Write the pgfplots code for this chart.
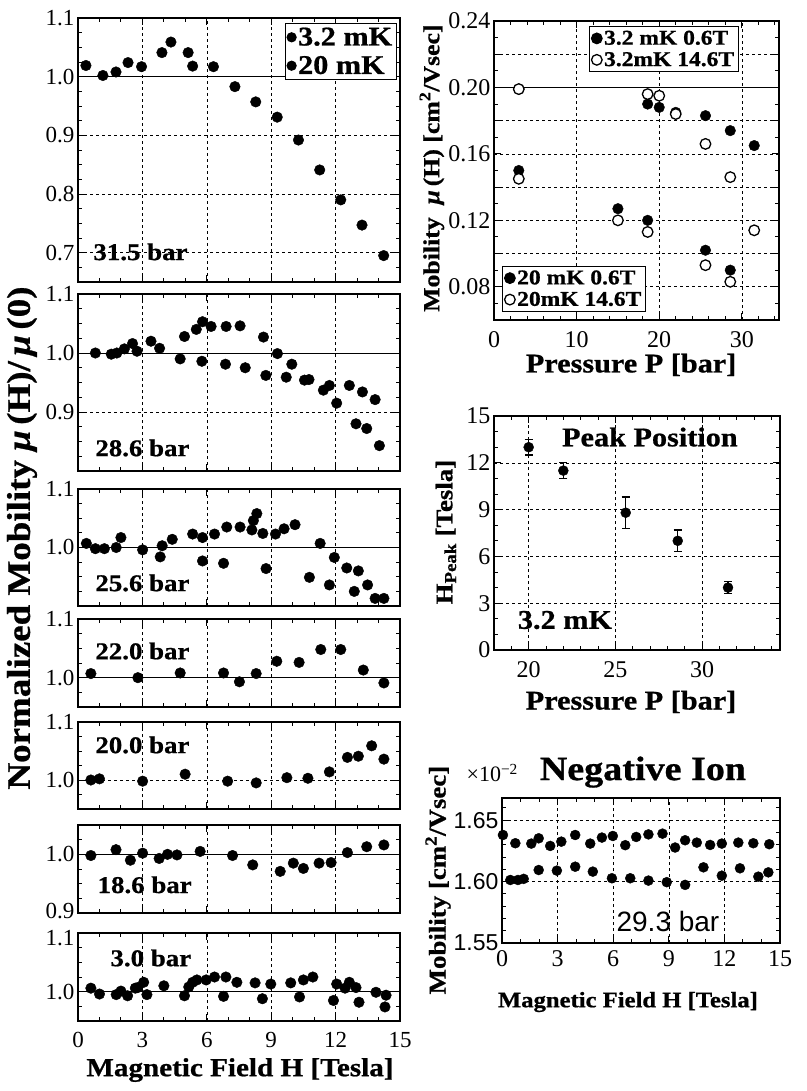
\documentclass[border=0pt]{standalone}
\usepackage{fontspec}
\setmainfont{Liberation Serif}
\setsansfont{Liberation Sans}
\newfontfamily\wb{Liberation Serif}[FakeStretch=1.12, FakeBold=0.8]
\usepackage{pgfplots}
\pgfplotsset{compat=1.18}
\newcommand\fs[1]{\fontsize{#1}{#1}\selectfont}
\tikzset{plab/.style={anchor=west, font=\wb\bfseries\fs{24}}}
\pgfplotsset{
  base/.style={scale only axis, tick pos=both, tick align=inside,
    major tick length=7pt, minor tick length=4pt,
    axis line style={line width=1.3pt},
    every tick/.style={black, line width=0.9pt},
    grid=major,
    major grid style={black, line width=0.6pt, dash pattern=on 3pt off 3pt},
    /pgf/number format/assume math mode=true,
    tick label style={font=\fs{23}},
    xticklabel style={yshift=-8pt},
    clip=false},
  lp/.style={base, width=322pt, xmin=0, xmax=15, xtick={0,3,...,15},
    minor xtick={1,2,4,5,7,8,10,11,13,14},
    xticklabels={},
    yticklabel style={/pgf/number format/fixed, /pgf/number format/fixed zerofill, /pgf/number format/precision=1}},
  pts/.style={only marks, mark=*, mark size=5.3pt, black},
  one/.style={black, line width=1pt, forget plot},
}
\begin{document}
\begin{tikzpicture}
\path[use as bounding box] (0,0) rectangle (806pt,-1091pt);

% ---------- Panel 1: 31.5 bar
\begin{axis}[lp, at={(78pt,-18pt)}, anchor=north west, height=264pt,
  ymin=0.65, ymax=1.1, ytick={0.7,0.8,0.9,1.0,1.1},
  minor ytick={0.675,0.725,0.75,0.775,0.825,0.85,0.875,0.925,0.95,0.975,1.025,1.05,1.075},
  legend style={at={(rel axis cs:0.99,0.981)}, anchor=north east, draw=black,
    line width=1.2pt, font=\wb\bfseries\fs{27}, inner sep=2pt, row sep=5pt},
  legend cell align=left]
\addplot[one] coordinates {(0,1) (15,1)};
\addplot[pts, forget plot] coordinates {(0.37,1.019)(1.16,1.002)(1.77,1.008)(2.33,1.024)(2.96,1.017)(3.91,1.041)(4.33,1.059)(5.13,1.041)(5.34,1.018)(6.31,1.017)(7.31,0.983)(8.28,0.957)(9.28,0.931)(10.27,0.892)(11.26,0.841)(12.24,0.790)(13.23,0.747)(14.24,0.695)};
\addlegendimage{only marks, mark=*, mark size=4.5pt, black}
\addlegendentry{3.2 mK}
\addlegendimage{only marks, mark=*, mark size=4.5pt, black}
\addlegendentry{20 mK}
\node[plab] at (rel axis cs:0.037,0.114) {31.5 bar};
\end{axis}

% ---------- Panel 2: 28.6 bar
\begin{axis}[lp, at={(78pt,-294pt)}, anchor=north west, height=177pt,
  ymin=0.8, ymax=1.1, ytick={0.8,0.9,1.0,1.1}, yticklabels={,0.9,1.0,1.1},
  minor ytick={0.825,0.85,0.875,0.925,0.95,0.975,1.025,1.05,1.075}]
\addplot[one] coordinates {(0,1) (15,1)};
\addplot[pts] coordinates {(0.81,1.000)(1.55,0.998)(1.81,1.000)(2.16,1.007)(2.54,1.016)(2.75,1.003)(3.40,1.020)(3.80,1.008)(4.76,0.990)(4.96,1.028)(5.51,1.040)(5.80,1.053)(5.77,0.986)(6.20,1.045)(6.90,1.045)(6.87,0.981)(7.55,1.046)(7.79,0.975)(8.64,1.027)(8.75,0.962)(9.29,0.999)(9.70,0.959)(9.96,0.981)(10.55,0.954)(10.76,0.955)(11.43,0.937)(11.71,0.945)(12.05,0.915)(12.64,0.945)(12.95,0.880)(13.25,0.934)(13.45,0.872)(13.84,0.921)(14.04,0.843)};
\node[plab] at (rel axis cs:0.043,0.13) {28.6 bar};
\end{axis}

% ---------- Panel 3: 25.6 bar
\begin{axis}[lp, at={(78pt,-489pt)}, anchor=north west, height=117pt,
  ymin=0.9, ymax=1.1, ytick={0.9,1.0,1.1}, yticklabels={,1.0,1.1},
  minor ytick={0.925,0.95,0.975,1.025,1.05,1.075},
  ylabel={Normalized Mobility \textit{μ}\,(H)/\,\textit{μ}\,(0)},
  ylabel style={at={(axis description cs:-0.174,0.581)}, anchor=center, font=\wb\bfseries\fs{33}}]
\addplot[one] coordinates {(0,1) (15,1)};
\addplot[pts] coordinates {(0.39,1.007)(0.81,0.998)(1.23,0.998)(1.78,1.000)(2.00,1.017)(3.01,0.996)(3.92,1.003)(3.83,0.984)(4.39,1.014)(5.34,1.023)(5.80,1.017)(5.80,0.977)(6.36,1.023)(6.78,0.973)(6.93,1.035)(7.55,1.035)(8.10,1.030)(8.17,1.046)(8.33,1.058)(8.61,1.024)(8.76,0.964)(9.20,1.023)(9.60,1.032)(10.11,1.039)(10.78,0.949)(11.28,1.007)(11.71,0.936)(11.94,0.983)(12.52,0.965)(12.87,0.925)(13.06,0.960)(13.49,0.936)(13.84,0.913)(14.25,0.913)};
\node[plab] at (rel axis cs:0.043,0.197) {25.6 bar};
\end{axis}

% ---------- Panel 4: 22.0 bar
\begin{axis}[lp, at={(78pt,-619pt)}, anchor=north west, height=88pt,
  ymin=0.95, ymax=1.1, ytick={1.0,1.1},
  minor ytick={0.975,1.025,1.05,1.075}]
\addplot[one] coordinates {(0,1) (15,1)};
\addplot[pts] coordinates {(0.60,1.007)(2.79,1.000)(4.76,1.008)(6.78,1.008)(7.52,0.993)(8.30,1.007)(9.26,1.028)(10.30,1.026)(11.31,1.048)(12.24,1.048)(13.29,1.013)(14.25,0.991)};
\node[plab] at (rel axis cs:0.043,0.636) {22.0 bar};
\end{axis}

% ---------- Panel 5: 20.0 bar
\begin{axis}[lp, at={(78pt,-722pt)}, anchor=north west, height=87pt,
  ymin=0.95, ymax=1.1, ytick={1.0,1.1},
  minor ytick={0.975,1.025,1.05,1.075}]
\addplot[pts] coordinates {(0.60,1.000)(1.00,1.002)(3.01,0.998)(4.99,1.010)(6.97,0.998)(8.30,0.995)(9.73,1.004)(10.71,1.003)(11.71,1.014)(12.55,1.039)(13.06,1.041)(13.68,1.059)(14.25,1.036)};
\node[plab] at (rel axis cs:0.043,0.736) {20.0 bar};
\end{axis}

% ---------- Panel 6: 18.6 bar
\begin{axis}[lp, at={(78pt,-825pt)}, anchor=north west, height=88pt,
  ymin=0.9, ymax=1.05, ytick={1.0},
  extra y ticks={0.9}, extra y tick labels={0.9},
  extra y tick style={yticklabel style={yshift=2pt}},
  minor ytick={0.925,0.95,0.975,1.025}]
\addplot[one] coordinates {(0,1) (15,1)};
\addplot[pts] coordinates {(0.60,0.998)(1.77,1.008)(2.44,0.990)(3.01,1.002)(3.78,0.993)(4.17,1.000)(4.61,0.999)(5.69,1.005)(7.20,0.998)(8.14,0.982)(9.42,0.971)(10.03,0.985)(10.50,0.976)(11.23,0.985)(11.79,0.986)(12.55,1.003)(13.45,1.013)(14.25,1.016)};
\node[plab] at (rel axis cs:0.05,0.32) {18.6 bar};
\end{axis}

% ---------- Panel 7: 3.0 bar
\begin{axis}[lp, at={(78pt,-933pt)}, anchor=north west, height=88pt,
  ymin=0.95, ymax=1.1, ytick={1.0},
  extra y ticks={1.1}, extra y tick labels={1.1},
  extra y tick style={yticklabel style={yshift=-5pt}},
  minor ytick={0.975,1.025,1.05,1.075},
  xticklabels={0,3,6,9,12,15},
  xticklabel style={font=\fs{23}},
  xlabel={Magnetic Field H [Tesla]},
  xlabel style={at={(axis description cs:0.503,-0.557)}, anchor=center, font=\wb\bfseries\fs{26}}]
\addplot[one] coordinates {(0,1) (15,1)};
\addplot[pts] coordinates {(0.60,1.006)(1.00,0.996)(1.78,0.995)(2.00,1.001)(2.31,0.993)(2.67,1.006)(2.78,1.007)(3.06,1.016)(3.21,0.995)(4.00,1.010)(4.96,0.993)(5.16,1.008)(5.34,1.016)(5.54,1.020)(5.97,1.020)(6.36,1.025)(6.78,0.992)(6.89,1.025)(7.40,1.016)(8.25,1.015)(8.59,0.988)(8.98,1.013)(9.91,1.015)(10.32,0.991)(10.50,1.020)(10.94,1.025)(11.90,0.985)(12.05,1.013)(12.44,1.006)(12.64,1.016)(12.95,1.007)(13.09,0.982)(13.88,0.999)(14.35,0.994)(14.30,0.974)};
\node[plab] at (rel axis cs:0.09,0.716) {3.0 bar};
\end{axis}

% ---------- Panel A: mobility vs pressure
\begin{axis}[base, at={(494pt,-21pt)}, anchor=north west, width=285pt, height=299pt,
  xmin=0, xmax=34.5, ymin=0.06, ymax=0.24,
  xtick={0,10,20,30}, minor xtick={2,4,6,8,12,14,16,18,22,24,26,28,32,34},
  ytick={0.08,0.12,0.16,0.20,0.24},
  extra y ticks={0.10,0.14,0.18,0.22}, extra y tick labels={},
  extra y tick style={grid=major},
  minor ytick={0.07,0.09,0.11,0.13,0.15,0.17,0.19,0.21,0.23},
  tick label style={font=\fs{24}},
  yticklabel style={/pgf/number format/fixed, /pgf/number format/fixed zerofill, /pgf/number format/precision=2},
  ylabel={Mobility \ \textit{μ}\,(H) [cm\textsuperscript{2}/Vsec]},
  ylabel style={at={(axis description cs:-0.218,0.508)}, anchor=center, font=\wb\bfseries\fs{23}},
  xlabel={Pressure P [bar]},
  xlabel style={at={(axis description cs:0.481,-0.15)}, anchor=center, font=\wb\bfseries\fs{27}},
  legend style={at={(rel axis cs:0.333,0.983)}, anchor=north west, draw=black,
    line width=1.2pt, font=\wb\bfseries\fs{21}, inner sep=2pt, row sep=2pt},
  legend cell align=left]
\addplot[one] coordinates {(0,0.2) (34.5,0.2)};
\addplot[only marks, mark=*, mark size=5.3pt, black] coordinates {(3.0,0.199)(18.6,0.190)(20.0,0.188)(22.0,0.185)(25.6,0.183)(28.6,0.174)(31.5,0.165)};
\addlegendentry{3.2 mK 0.6T}
\addplot[only marks, mark=*, mark size=5.3pt, black, mark options={fill=white, line width=1.3pt}] coordinates {(3.0,0.199)(18.6,0.196)(20.0,0.195)(22.0,0.184)(25.6,0.166)(28.6,0.146)(31.5,0.114)};
\addlegendentry{3.2mK 14.6T}
\end{axis}
\begin{axis}[scale only axis, at={(494pt,-21pt)}, anchor=north west, width=285pt, height=299pt,
  xmin=0, xmax=34.5, ymin=0.06, ymax=0.24, hide axis,
  legend style={at={(rel axis cs:0.028,0.027)}, anchor=south west, draw=black,
    line width=1.2pt, font=\wb\bfseries\fs{21}, inner sep=2pt, row sep=2pt},
  legend cell align=left]
\addplot[only marks, mark=*, mark size=5.3pt, black] coordinates {(3.0,0.150)(15.0,0.127)(18.6,0.120)(25.6,0.102)(28.6,0.090)};
\addlegendentry{20 mK 0.6T}
\addplot[only marks, mark=*, mark size=5.3pt, black, mark options={fill=white, line width=1.3pt}] coordinates {(3.0,0.145)(15.0,0.120)(18.6,0.113)(25.6,0.093)(28.6,0.083)};
\addlegendentry{20mK 14.6T}
\end{axis}

% ---------- Panel B: peak position
\begin{axis}[base, at={(494pt,-416pt)}, anchor=north west, width=286pt, height=234pt,
  xmin=18, xmax=34.5, ymin=0, ymax=15,
  xtick={20,25,30}, minor xtick={18,19,21,22,23,24,26,27,28,29,31,32,33,34},
  ytick={0,3,...,15}, minor ytick={1,2,4,5,7,8,10,11,13,14},
  tick label style={font=\fs{24}},
  ylabel={H\textsubscript{Peak} [Tesla]},
  ylabel style={at={(axis description cs:-0.168,0.504)}, anchor=center, font=\wb\bfseries\fs{24}},
  xlabel={Pressure P [bar]},
  xlabel style={at={(axis description cs:0.479,-0.222)}, anchor=center, font=\wb\bfseries\fs{27}}]
\addplot[only marks, mark=*, mark size=5pt, black,
  error bars/.cd, y dir=both, y explicit,
  error bar style={line width=1.3pt}, error mark options={line width=1.3pt, mark size=4pt, rotate=90}]
  coordinates {(20.0,13.0) +- (0,0.5) (22.0,11.5) +- (0,0.5) (25.6,8.8) +- (0,1.0) (28.6,7.0) +- (0,0.7) (31.5,4.0) +- (0,0.4)};
\node[font=\wb\bfseries\fs{27}] at (rel axis cs:0.545,0.91) {Peak Position};
\node[font=\wb\bfseries\fs{27}] at (rel axis cs:0.248,0.128) {3.2 mK};
\end{axis}

% ---------- Panel C: negative ion
\begin{axis}[base, at={(502pt,-798pt)}, anchor=north west, width=278pt, height=145pt,
  xmin=0, xmax=15, ymin=1.55, ymax=1.668,
  xtick={0,3,...,15}, minor xtick={1,2,4,5,7,8,10,11,13,14},
  ytick={1.55,1.60,1.65}, minor ytick={1.56,1.57,1.58,1.59,1.61,1.62,1.63,1.64,1.66},
  xticklabel style={font=\fs{24}, yshift=4pt},
  yticklabel style={font=\sffamily\fs{23}, /pgf/number format/fixed, /pgf/number format/fixed zerofill, /pgf/number format/precision=2},
  ylabel={Mobility [cm\textsuperscript{2}/Vsec]},
  ylabel style={at={(axis description cs:-0.23,0.434)}, anchor=center, font=\wb\bfseries\fs{24}},
  xlabel={Magnetic Field H [Tesla]},
  xlabel style={at={(axis description cs:0.453,-0.407)}, anchor=center, font=\wb\bfseries\fs{22}}]
\addplot[only marks, mark=*, mark size=5pt, black] coordinates {(0.05,1.6379)(0.72,1.6312)(1.58,1.6309)(1.98,1.6352)(2.60,1.6290)(3.20,1.6325)(3.95,1.6379)(4.76,1.6309)(5.39,1.6358)(5.98,1.6371)(6.65,1.6296)(7.24,1.6363)(7.90,1.6384)(8.66,1.6390)(9.34,1.6277)(9.88,1.6336)(10.51,1.6317)(11.23,1.6298)(11.86,1.6309)(12.75,1.6317)(13.56,1.6312)(14.42,1.6304)};
\addplot[only marks, mark=*, mark size=5pt, black] coordinates {(0.45,1.6013)(0.86,1.6013)(1.17,1.6022)(1.98,1.6094)(2.96,1.6089)(3.95,1.6121)(4.90,1.6081)(5.93,1.6027)(6.92,1.6027)(7.90,1.6008)(8.89,1.5995)(9.88,1.5973)(10.87,1.6116)(11.86,1.6048)(12.84,1.6108)(13.83,1.6040)(14.37,1.6075)};
\node[font=\sffamily\fs{28}] at (rel axis cs:0.597,0.145) {29.3 bar};
\node[font=\wb\bfseries\fs{34}] at (rel axis cs:0.507,1.179) {Negative Ion};
\node[font=\fs{22}] at (rel axis cs:-0.035,1.172) {×10\textsuperscript{−2}};
\end{axis}
\end{tikzpicture}
\end{document}
